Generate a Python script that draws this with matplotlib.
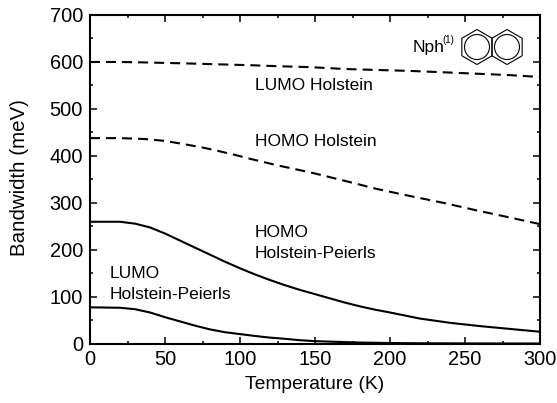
#!/usr/bin/env python3
import matplotlib
matplotlib.use("Agg")
import matplotlib.pyplot as plt
from matplotlib.patches import Circle

plt.rcParams["font.family"] = ["Liberation Sans", "DejaVu Sans"]

# values
temp_h = [0, 20, 37, 50, 63, 75, 85, 97, 108, 125, 147, 170, 191, 213, 236, 258, 280, 300]
lumo_h = [599, 599, 598, 597, 596, 595, 594, 593, 592, 590, 588, 584, 582, 580, 577, 574, 571, 567]
homo_h = [437, 437, 435, 431, 424, 417, 410, 401, 392, 379, 364, 346, 329, 314, 299, 283, 268, 254]

temp_hp = [0, 20, 30, 40, 50, 60, 70, 80, 90, 100, 110, 120, 130, 140, 150, 160, 170, 180, 190, 200,
           220, 240, 260, 280, 300]
homo_hp = [259, 259, 255, 247, 234, 219, 204, 189, 174, 160, 147, 135, 124, 114, 105, 96, 87, 79, 72, 66,
           53, 44, 37, 31, 25]
lumo_hp = [77, 76, 73, 66, 56, 47, 38, 30, 24, 20, 16, 12.5, 10, 7, 5, 4, 3, 2, 1.5, 1,
           0.5, 0.3, 0.1, 0, 0]

xticks = [0, 50, 100, 150, 200, 250, 300]
yticks = [0, 100, 200, 300, 400, 500, 600, 700]

W, H = 557, 403
fig = plt.figure(figsize=(W / 100, H / 100), dpi=100)
ax = fig.add_axes([90 / W, 1 - 343.5 / H, 450 / W, 329 / H])

dash = (4.8, 2.9)
ax.plot(temp_h, lumo_h, "k--", lw=1.5, dashes=dash)
ax.plot(temp_h, homo_h, "k--", lw=1.5, dashes=dash)
ax.plot(temp_hp, homo_hp, "k-", lw=1.5)
ax.plot(temp_hp, lumo_hp, "k-", lw=1.5)

ax.set_xlim(0, 300)
ax.set_ylim(0, 700)
ax.set_xticks(xticks)
ax.set_yticks(yticks)
ax.set_xticks([25, 75, 125, 175, 225, 275], minor=True)
ax.set_yticks([50, 150, 250, 350, 450, 550, 650], minor=True)
ax.tick_params(which="both", direction="in", top=True, right=True)
ax.tick_params(which="major", length=5, width=1.1, labelsize=14.4, pad=5)
ax.tick_params(which="minor", length=2.5, width=1.1)
for s in ax.spines.values():
    s.set_linewidth(1.5)
ax.set_xlabel("Temperature (K)", fontsize=13.9, labelpad=5)
ax.set_ylabel("Bandwidth (meV)", fontsize=14.8, labelpad=15, y=0.505)

ax.text(110, 548, "LUMO Holstein", fontsize=12.5, va="center")
ax.text(110, 429, "HOMO Holstein", fontsize=12.5, va="center")
ax.text(110, 213, "HOMO\nHolstein-Peierls", fontsize=12.5, va="center", linespacing=1.5)
ax.text(13, 127, "LUMO\nHolstein-Peierls", fontsize=12.5, va="center", linespacing=1.5)
ax.text(215, 630, "Nph", fontsize=12.5, va="center")
ax.text(235, 646, "(1)", fontsize=7, va="center")

# naphthalene sketch, pixel coordinates from the top left
for cx in (477, 507):
    cy = H - 47
    hexagon = plt.Polygon(
        [(cx + 17.5 * dx, cy + 17.5 * dy) for dx, dy in
         [(0, 1), (0.866, 0.5), (0.866, -0.5), (0, -1), (-0.866, -0.5), (-0.866, 0.5)]],
        closed=True, fill=False, ec="k", lw=0.8, transform=None)
    fig.add_artist(hexagon)
    fig.add_artist(Circle((cx, cy), 12.5, fill=False, ec="k", lw=0.8, transform=None))

fig.savefig("out.png", dpi=100)
